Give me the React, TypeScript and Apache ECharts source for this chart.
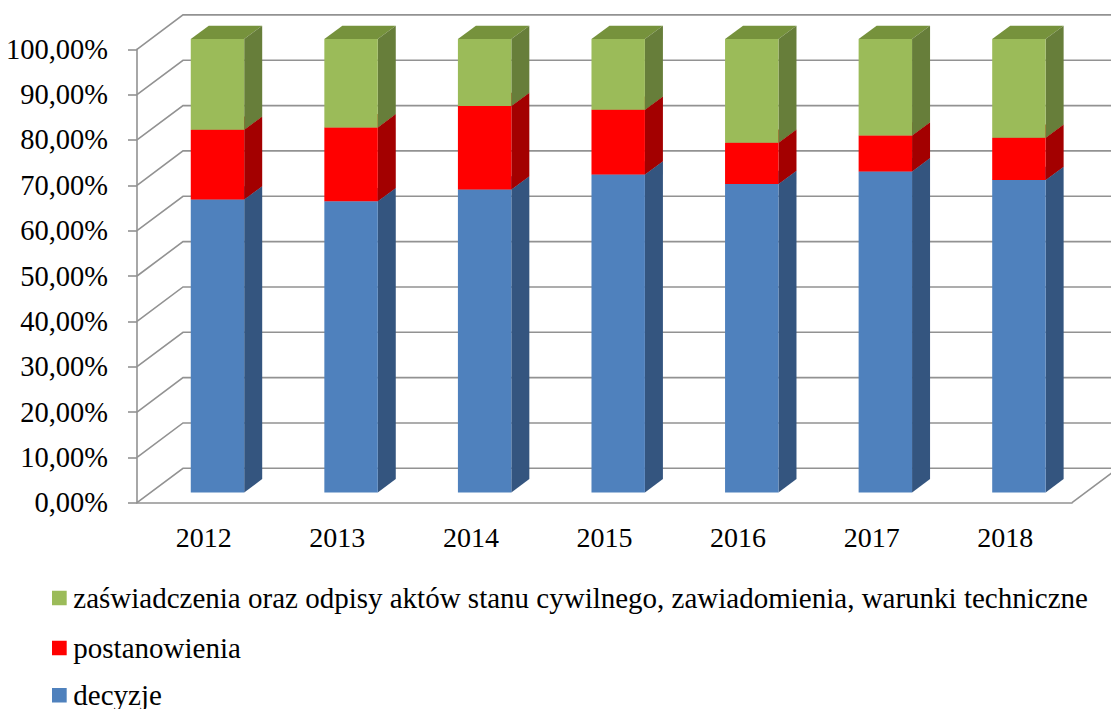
import React, { useEffect, useRef } from "react";
import * as echarts from "echarts";

const years = ["2012", "2013", "2014", "2015", "2016", "2017", "2018"];
const decyzje = [64.6, 64.2, 66.8, 70.1, 68.0, 70.8, 68.9];
const postanowienia = [15.4, 16.3, 18.4, 14.3, 9.1, 7.9, 9.3];
const zaswiadczenia = [20.0, 19.5, 14.8, 15.6, 22.9, 21.3, 21.8];
const yTicks = [0, 10, 20, 30, 40, 50, 60, 70, 80, 90, 100];

const NAME_D = "decyzje";
const NAME_P = "postanowienia";
const NAME_Z =
  "zaświadczenia oraz odpisy aktów stanu cywilnego, zawiadomienia, warunki techniczne";

const COLORS: Record<string, [string, string, string]> = {
  [NAME_D]: ["#4F81BD", "#34557F", "#3F6797"],
  [NAME_P]: ["#FF0000", "#A30000", "#CC0000"],
  [NAME_Z]: ["#9BBB59", "#677E3A", "#76923C"],
};
const LEGEND_ORDER = [NAME_Z, NAME_P, NAME_D];

const FONT = "Liberation Serif";
const GRID_COLOR = "#929292";

// projection offsets
const BAR_SHIFT_X = 13.7;
const BAR_SHIFT_Y = -10.3;
const BACK_DX = 46;
const BACK_DY = -34.4;
const DEPTH_DX = 18;
const DEPTH_DY = -13.3;

const FRONT = { left: 137, right: 39, top: 49.3, bottom: 206.3 };

function stackItems(values: number[], bases: number[]) {
  return values.map((v, i) => [i, bases[i], bases[i] + v]);
}

const fmtPct = (v: number) => v.toFixed(2).replace(".", ",") + "%";

export default function App() {
  const ref = useRef<HTMLDivElement>(null);
  useEffect(() => {
    if (!ref.current) return;
    const chart = echarts.init(ref.current, undefined, { renderer: "svg" });

    const zeros = years.map(() => 0);
    const baseP = decyzje.slice();
    const baseZ = decyzje.map((d, i) => d + postanowienia[i]);

    const barRender = (name: string) => {
      const [front, side, top] = COLORS[name];
      return (params: any, api: any) => {
        const i = api.value(0);
        const b = api.value(1);
        const t = api.value(2);
        const pTop = api.coord([i, t]);
        const pBase = api.coord([i, b]);
        const bw = api.size([1, 0])[0] * 0.4;
        const xl = pTop[0] - bw / 2;
        const xr = pTop[0] + bw / 2;
        const yT = pTop[1];
        const yB = pBase[1];
        return {
          type: "group",
          children: [
            {
              type: "polygon",
              shape: {
                points: [
                  [xl, yT],
                  [xl + DEPTH_DX, yT + DEPTH_DY],
                  [xr + DEPTH_DX, yT + DEPTH_DY],
                  [xr, yT],
                ],
              },
              style: { fill: top },
            },
            {
              type: "polygon",
              shape: {
                points: [
                  [xr, yT],
                  [xr + DEPTH_DX, yT + DEPTH_DY],
                  [xr + DEPTH_DX, yB + DEPTH_DY],
                  [xr, yB],
                ],
              },
              style: { fill: side },
            },
            {
              type: "rect",
              shape: { x: xl, y: yT, width: bw, height: yB - yT },
              style: { fill: front },
            },
          ],
        };
      };
    };

    const wallRender = (params: any, api: any) => {
      const cs = params.coordSys;
      const v = api.value(0);
      const y = api.coord([0, v])[1];
      const style = { stroke: GRID_COLOR, lineWidth: 1.6, fill: "none" };
      const children: any[] = [
        {
          type: "polyline",
          shape: {
            points: [
              [cs.x, y],
              [cs.x + BACK_DX, y + BACK_DY],
              [cs.x + cs.width + BACK_DX, y + BACK_DY],
            ],
          },
          style,
        },
        {
          type: "text",
          style: {
            text: fmtPct(v),
            x: cs.x - 29,
            y: y,
            align: "right",
            verticalAlign: "middle",
            fontFamily: FONT,
            fontSize: 28.5,
            fill: "#000",
          },
        },
      ];
      if (v === 0) {
        children.push({
          type: "line",
          shape: {
            x1: cs.x + cs.width,
            y1: y,
            x2: cs.x + cs.width + BACK_DX,
            y2: y + BACK_DY,
          },
          style,
        });
      }
      return { type: "group", children };
    };

    const xLabelRender = (params: any, api: any) => {
      const cs = params.coordSys;
      const i = api.value(0);
      const p = api.coord([i, 0]);
      return {
        type: "text",
        style: {
          text: years[i],
          x: p[0],
          y: cs.y + cs.height + 35,
          align: "center",
          verticalAlign: "middle",
          fontFamily: FONT,
          fontSize: 28,
          fill: "#000",
        },
      };
    };

    const legendCenters = [598, 648, 695.3];
    const legendGraphics: any[] = [];
    LEGEND_ORDER.forEach((name, k) => {
      legendGraphics.push({
        type: "rect",
        shape: { x: 52, y: legendCenters[k] - 7.3, width: 14.7, height: 14.6 },
        style: { fill: COLORS[name][0] },
        silent: true,
      });
      legendGraphics.push({
        type: "text",
        style: {
          text: name,
          x: 73.3,
          y: legendCenters[k],
          align: "left",
          verticalAlign: "middle",
          fontFamily: FONT,
          fontSize: 29,
          fill: "#000",
        },
        silent: true,
      });
    });

    const option: any = {
      animation: false,
      backgroundColor: "#ffffff",
      grid: [
        { ...FRONT, containLabel: false },
        {
          left: FRONT.left + BAR_SHIFT_X,
          right: FRONT.right - BAR_SHIFT_X,
          top: FRONT.top + BAR_SHIFT_Y,
          bottom: FRONT.bottom - BAR_SHIFT_Y,
          containLabel: false,
        },
      ],
      xAxis: [
        {
          type: "category",
          gridIndex: 0,
          data: years,
          boundaryGap: true,
          axisLine: { lineStyle: { color: GRID_COLOR, width: 1.6 } },
          axisTick: { length: 7, lineStyle: { color: GRID_COLOR, width: 1.6 } },
          axisLabel: { show: false },
          splitLine: { show: false },
        },
        {
          type: "category",
          gridIndex: 1,
          data: years,
          boundaryGap: true,
          show: false,
        },
      ],
      yAxis: [
        {
          type: "value",
          gridIndex: 0,
          min: 0,
          max: 100,
          interval: 10,
          axisLine: { show: true, lineStyle: { color: GRID_COLOR, width: 1.6 } },
          axisTick: { show: true, length: 9, lineStyle: { color: GRID_COLOR, width: 1.6 } },
          axisLabel: { show: false },
          splitLine: { show: false },
        },
        {
          type: "value",
          gridIndex: 1,
          min: 0,
          max: 100,
          interval: 10,
          show: false,
          splitLine: { show: false },
        },
      ],
      graphic: legendGraphics,
      series: [
        {
          type: "custom",
          name: "walls",
          xAxisIndex: 0,
          yAxisIndex: 0,
          z: 1,
          silent: true,
          data: yTicks.map((v) => [v]),
          renderItem: wallRender,
        },
        {
          type: "custom",
          name: "xlabels",
          xAxisIndex: 0,
          yAxisIndex: 0,
          z: 1,
          silent: true,
          data: years.map((_, i) => [i]),
          renderItem: xLabelRender,
        },
        {
          type: "custom",
          name: NAME_D,
          xAxisIndex: 1,
          yAxisIndex: 1,
          z: 3,
          data: stackItems(decyzje, zeros),
          renderItem: barRender(NAME_D),
        },
        {
          type: "custom",
          name: NAME_P,
          xAxisIndex: 1,
          yAxisIndex: 1,
          z: 3,
          data: stackItems(postanowienia, baseP),
          renderItem: barRender(NAME_P),
        },
        {
          type: "custom",
          name: NAME_Z,
          xAxisIndex: 1,
          yAxisIndex: 1,
          z: 3,
          data: stackItems(zaswiadczenia, baseZ),
          renderItem: barRender(NAME_Z),
        },
      ],
    };
    chart.setOption(option);
    return () => chart.dispose();
  }, []);

  return (
    <div
      ref={ref}
      style={{ position: "absolute", left: 0, top: 0, width: 1111, height: 709, background: "#fff" }}
    />
  );
}
